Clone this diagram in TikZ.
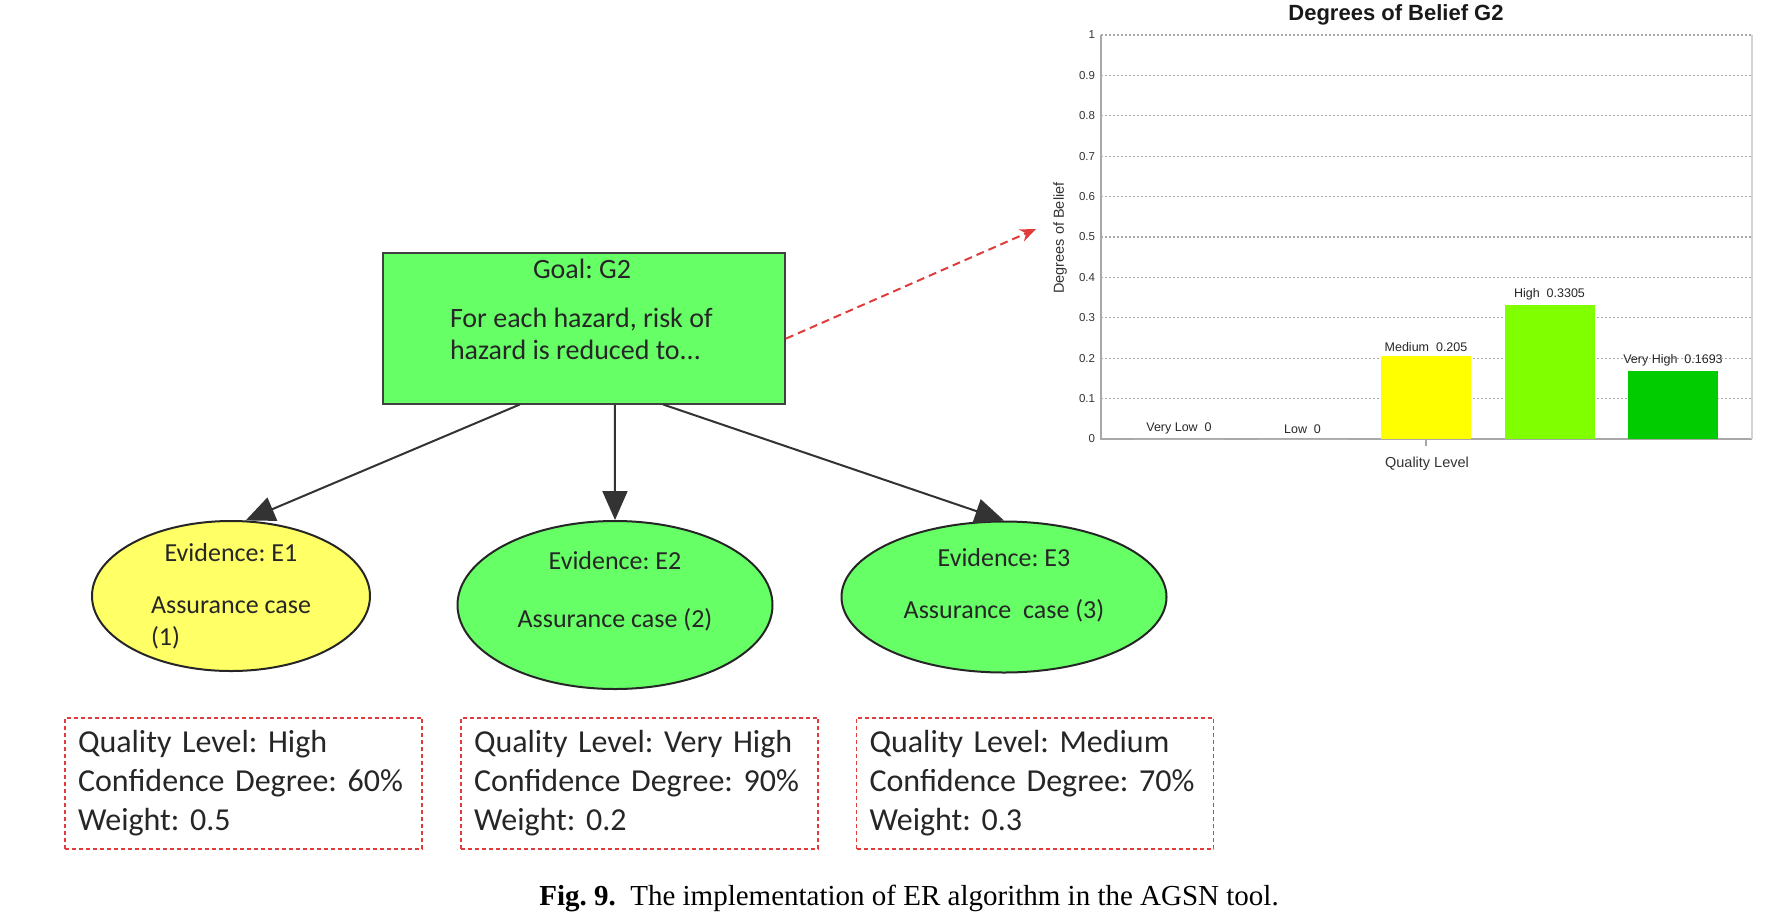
\documentclass[tikz,border=0pt]{standalone}
\usepackage{fontspec}
\setmainfont{Carlito}
\newfontfamily\chartfont{Liberation Sans}
\newfontfamily\capfont{Liberation Serif}
\usetikzlibrary{shapes.geometric,arrows.meta}
\frenchspacing

\definecolor{goalgreen}{HTML}{66FF66}
\definecolor{evyellow}{HTML}{FFFF66}
\definecolor{dashred}{HTML}{E03C3C}
\definecolor{barmed}{HTML}{FFFF00}
\definecolor{barhigh}{HTML}{80FF00}
\definecolor{barvhigh}{HTML}{00CC00}
\definecolor{gridgray}{HTML}{A8A8A8}

\begin{document}
\begin{tikzpicture}[x=1pt, y=-1pt, line width=2pt,
	goalbox/.style = {draw=black!75, fill=goalgreen, minimum width=402pt, minimum height=151pt, inner sep=0pt},
	goaltext/.style = {inner sep=0pt, text=black!85, font=\fontsize{28}{32}\selectfont},
	evid/.style = {draw=black!85, ellipse, inner sep=0pt, align=center, text=black!85, font=\fontsize{26}{32}\selectfont},
	qbox/.style = {draw=dashred, dash pattern=on 4pt off 3pt, line width=1.8pt, minimum width=357pt, minimum height=129pt, inner sep=13pt, text width=331pt, align=left, text=black!85, font=\fontsize{32}{39}\selectfont},
	arr/.style = {draw=black!80, -{Triangle[length=29pt, width=25pt]}},
	redarr/.style = {draw=dashred, dash pattern=on 8pt off 5pt, -{Stealth[length=16pt, width=13pt]}},
	gridline/.style = {draw=gridgray, line width=1.3pt, dash pattern=on 2pt off 2pt},
	axisline/.style = {draw=gridgray, line width=1.5pt},
	ticklab/.style = {anchor=east, inner sep=0pt, text=black!80, font=\chartfont\fontsize{11.5}{12}\selectfont},
	barlab/.style = {anchor=south, inner sep=0pt, text=black!85, font=\chartfont\fontsize{12.5}{13}\selectfont},
	axislab/.style = {inner sep=0pt, text=black!80, font=\chartfont\fontsize{14.5}{15}\selectfont}]
	\useasboundingbox (0,0) rectangle (1786,922);
	
	% goal and evidences
	\node[goalbox] (goal) at (584,328) {};
	\node[goaltext] (goaltitle) at (582,269) {Goal: G2};
	\node[goaltext, anchor=west, align=left] (goalbody) at (449,334) {For each hazard, risk of\\hazard is reduced to...};
	
	\node[evid, fill=evyellow, minimum width=278pt, minimum height=150pt] (e1) at (231,596) {Evidence: E1\\[20pt]Assurance case\\\rlap{(1)}\phantom{Assurance case}};
	\node[evid, fill=goalgreen, minimum width=315pt, minimum height=168pt] (e2) at (615,605) {Evidence: E2\\[26pt]Assurance case (2)\\\mbox{}};
	\node[evid, fill=goalgreen, minimum width=325pt, minimum height=151pt] (e3) at (1004,597) {Evidence: E3\\[20pt]Assurance\ \ case (3)\\[-5pt]\mbox{}};
	
	\draw[arr] (goal.230) -- (e1.79);
	\draw[arr] (goal.292) -- (e2.north);
	\draw[arr] (goal.316) -- (e3.north);
	
	% quality boxes
	\node[qbox] (q1) at (243.5,783.5) {Quality Level: High\\Confidence Degree: 60\%\\Weight: 0.5};
	\node[qbox] (q2) at (639.5,783.5) {Quality Level: Very High\\Confidence Degree: 90\%\\Weight: 0.2};
	\node[qbox] (q3) at (1035,783.5) {Quality Level: Medium\\Confidence Degree: 70\%\\Weight: 0.3};
	
	% chart
	\foreach \k in {1,...,10}
		\draw[gridline] (1101,{439-40.4*\k}) -- (1752,{439-40.4*\k});
	\draw[axisline] (1101,35) -- (1101,439) -- (1752,439);
	\draw[axisline, draw=gridgray!50] (1752,439) -- (1752,35);
	\draw[axisline] (1426,439) -- (1426,446);
	\foreach \k/\lab in {0/0,1/0.1,2/0.2,3/0.3,4/0.4,5/0.5,6/0.6,7/0.7,8/0.8,9/0.9,10/1}
		\node[ticklab] (t\k) at (1096,{439-40.4*\k}) {\lab};
	\foreach \c/\v/\lab/\col in {0/0/Very Low/white,1/0/Low/white,2/0.205/Medium/barmed,3/0.3305/High/barhigh,4/0.1693/Very High/barvhigh}{
		\fill[\col] ({1381+123.5*(\c-2)},439) rectangle ++(90,{-404*\v});
		\node[barlab] (b\c) at ({1426+123.5*(\c-2)},{435-404*\v}) {\lab\ \ \v};
	}
	\node[inner sep=0pt, text=black!90, font=\chartfont\bfseries\fontsize{22}{24}\selectfont] (ctitle) at (1396,15) {Degrees of Belief G2};
	\node[axislab, rotate=90] (ylab) at (1060,238) {Degrees of Belief};
	\node[axislab] (xlab) at (1427,464) {Quality Level};
	
	\coordinate (chartpt) at (1036,229);
	\draw[redarr] (goal.357) -- (chartpt);
	
	\node[inner sep=0pt, font=\capfont\fontsize{29}{32}\selectfont] (caption) at (909,898) {\textbf{Fig. 9.}\enspace The implementation of ER algorithm in the AGSN tool.};
\end{tikzpicture}
\end{document}
